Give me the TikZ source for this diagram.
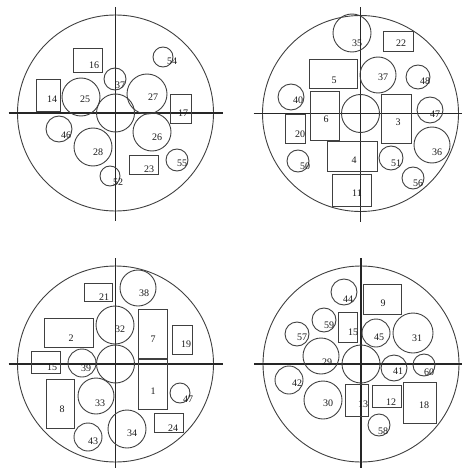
\documentclass[tikz,border=0pt]{standalone}
\usepackage{fontspec}
\setmainfont{Liberation Serif}
\begin{document}
\begin{tikzpicture}[x=1pt,y=-1pt,
  part/.style={draw=black!75,line width=0.9pt},
  axis/.style={draw=black!85,line width=1.2pt},
  outer/.style={draw=black!75,line width=0.9pt},
  lbl/.style={font=\fontsize{10}{10}\selectfont,text=black!90,inner sep=0pt}]
\useasboundingbox (0,0) rectangle (461,468);
\newcommand\circpart[6]{\draw[part] (#1,#2) circle[radius=#3]; \node[lbl] at (#4,#5) {#6};}
\newcommand\rectpart[7]{\draw[part] (#1,#2) rectangle (#3,#4); \node[lbl] at (#5,#6) {#7};}
\newcommand\panel[2]{%
  \draw[outer] (#1,#2) circle[radius=98];
  \draw[axis] (#1-107,#2) -- (#1+107,#2);
  \draw[axis] (#1,#2-106) -- (#1,#2+108);
  \draw[part] (#1,#2) circle[radius=19];}
% ---------- panel 1
\panel{115.5}{113}
\rectpart{73}{48}{102}{72}{94}{65}{16}
\rectpart{36}{79}{60}{111}{52}{99}{14}
\circpart{81}{97}{19}{85}{99}{25}
\circpart{115}{79}{11}{120}{85}{37}
\circpart{147}{94}{20}{153}{97}{27}
\circpart{163}{57}{10}{172}{61}{54}
\rectpart{170}{94}{191}{123}{183}{113}{17}
\circpart{59}{129}{13}{66}{135}{46}
\circpart{93}{147}{19}{98}{152}{28}
\circpart{152}{132}{19}{157}{137}{26}
\circpart{177}{160}{11}{182}{163}{55}
\rectpart{129}{155}{158}{174}{149}{169}{23}
\circpart{110}{176}{10}{118}{182}{52}
% ---------- panel 2
\panel{360.5}{113.5}
\circpart{352}{33}{19}{357}{43}{35}
\rectpart{383}{31}{413}{51}{401}{43}{22}
\rectpart{309}{59}{357}{88}{334}{80}{5}
\circpart{378}{75}{18}{383}{77}{37}
\circpart{418}{77}{12}{425}{81}{48}
\circpart{291}{97}{13}{298}{100}{40}
\rectpart{310}{91}{339}{140}{326}{119}{6}
\rectpart{381}{94}{411}{143}{398}{122}{3}
\circpart{430}{110}{13}{435}{114}{47}
\rectpart{285}{114}{305}{143}{300}{134}{20}
\circpart{432}{145}{18}{437}{152}{36}
\rectpart{327}{141}{377}{171}{354}{160}{4}
\circpart{391}{158}{12}{396}{163}{51}
\circpart{298}{161}{11}{305}{166}{50}
\circpart{413}{178}{11}{418}{183}{56}
\rectpart{332}{174}{371}{206}{357}{193}{11}
% ---------- panel 3
\panel{115.5}{364}
\rectpart{84}{283}{112}{301}{104}{297}{21}
\circpart{138}{288}{18}{144}{293}{38}
\rectpart{44}{318}{93}{347}{71}{338}{2}
\circpart{115}{325}{19}{120}{329}{32}
\rectpart{138}{309}{167}{358}{153}{339}{7}
\rectpart{172}{325}{192}{354}{186}{344}{19}
\rectpart{31}{351}{60}{373}{52}{367}{15}
\circpart{82}{363}{14}{86}{368}{39}
\rectpart{138}{359}{167}{409}{153}{391}{1}
\circpart{180}{393}{10}{188}{399}{47}
\rectpart{46}{379}{74}{428}{62}{409}{8}
\circpart{96}{396}{18}{100}{403}{33}
\circpart{88}{437}{14}{93}{441}{43}
\circpart{127}{429}{19}{132}{433}{34}
\rectpart{154}{413}{183}{432}{173}{428}{24}
% ---------- panel 4
\panel{361}{364}
\circpart{344}{292}{13}{348}{299}{44}
\rectpart{363}{284}{401}{314}{383}{303}{9}
\circpart{324}{320}{12}{329}{325}{59}
\rectpart{338}{312}{357}{342}{353}{332}{15}
\circpart{376}{333}{14}{379}{337}{45}
\circpart{413}{333}{20}{417}{338}{31}
\circpart{297}{334}{12}{302}{337}{57}
\circpart{321}{356}{18}{327}{362}{29}
\circpart{394}{368}{13}{398}{371}{41}
\circpart{424}{365}{11}{429}{372}{60}
\circpart{289}{380}{14}{297}{383}{42}
\circpart{323}{400}{19}{328}{403}{30}
\rectpart{345}{384}{368}{416}{363}{404}{13}
\rectpart{372}{385}{401}{407}{391}{402}{12}
\rectpart{403}{382}{436}{423}{424}{405}{18}
\circpart{379}{425}{11}{383}{431}{58}
\end{tikzpicture}
\end{document}
